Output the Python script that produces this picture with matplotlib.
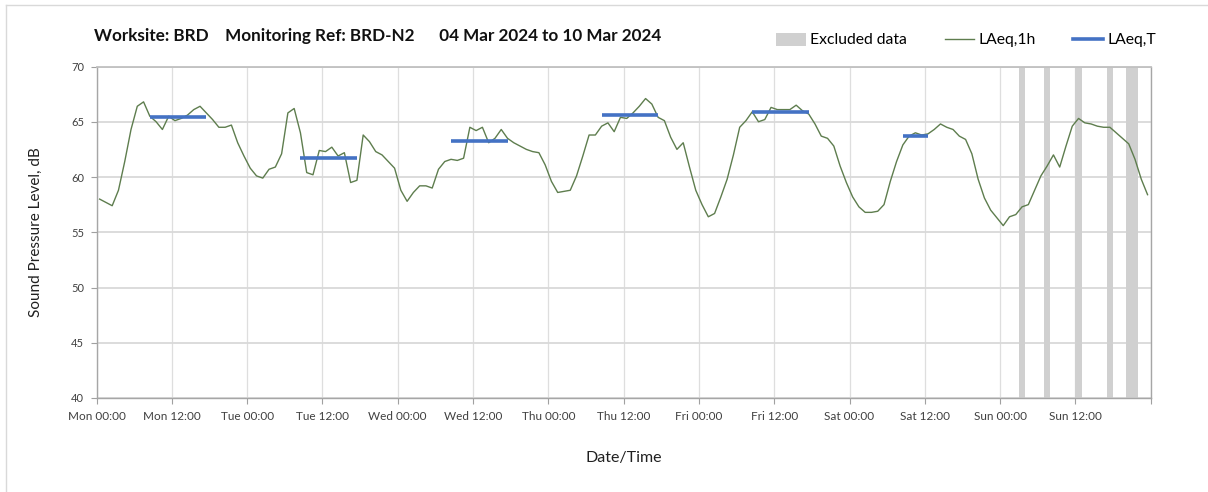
import numpy as np
import matplotlib
matplotlib.use('Agg')
import matplotlib.pyplot as plt
from matplotlib.lines import Line2D
from matplotlib.patches import Patch

plt.rcParams['font.family'] = ['Lato', 'DejaVu Sans']

# hourly LAeq,1h from Mon 04 Mar 00:00, one value per hour (168 h)
laeq_1h = [
    58.0, 57.7, 57.4, 58.8, 61.4, 64.3, 66.4, 66.8, 65.5, 65.0,
    64.3, 65.5, 65.1, 65.3, 65.6, 66.1, 66.4, 65.8, 65.2, 64.5,
    64.5, 64.7, 63.1, 61.9, 60.8, 60.1, 59.9, 60.7,
    60.9, 62.1, 65.8, 66.2, 64.0, 60.4, 60.2, 62.4, 62.3, 62.7,
    61.9, 62.2, 59.5, 59.7, 63.8, 63.2, 62.3, 62.0, 61.4, 60.8,
    58.8, 57.8, 58.6, 59.2, 59.2, 59.0, 60.7,
    61.4, 61.6, 61.5, 61.7, 64.5, 64.2, 64.5, 63.1, 63.5, 64.3,
    63.5, 63.1, 62.8, 62.5, 62.3, 62.2, 61.1, 59.6, 58.6, 58.7,
    58.8, 60.1, 61.9, 63.8, 63.8,
    64.6, 64.9, 64.1, 65.4, 65.3, 65.8, 66.4, 67.1, 66.6, 65.4,
    65.1, 63.6, 62.5, 63.1, 60.9, 58.8, 57.5, 56.4, 56.7, 58.2,
    59.8, 62.0, 64.5, 65.1, 65.9, 65.0, 65.2,
    66.3, 66.1, 66.1, 66.1, 66.5, 66.0, 65.7, 64.8, 63.7, 63.5,
    62.8, 61.0, 59.5, 58.2, 57.3, 56.8, 56.8, 56.9, 57.5, 59.6,
    61.4, 62.9, 63.7, 64.0, 63.8, 63.9, 64.3, 64.8,
    64.5, 64.3, 63.7, 63.4, 62.1, 59.8, 58.1, 57.0, 56.3, 55.6,
    56.4, 56.6, 57.3, 57.5, 58.8, 60.1, 61.0, 62.0, 60.9, 62.8,
    64.6, 65.3, 64.9, 64.8, 64.6, 64.5, 64.5, 64.0, 63.5, 63.0,
    61.6, 59.8, 58.4,
]

# LAeq,T over the working period of each day (first hour, last hour, level)
period_start = [8, 32, 56, 80, 104, 128]
period_end = [17, 41, 65, 89, 113, 132]
laeq_t = [65.4, 61.7, 63.3, 65.6, 65.9, 63.7]

# hours flagged as excluded
excluded_hours = [147, 151, 156, 161, 164, 165]

tick_labels = ['Mon 00:00', 'Mon 12:00', 'Tue 00:00', 'Tue 12:00',
               'Wed 00:00', 'Wed 12:00', 'Thu 00:00', 'Thu 12:00',
               'Fri 00:00', 'Fri 12:00', 'Sat 00:00', 'Sat 12:00',
               'Sun 00:00', 'Sun 12:00', '']

green = '#5e7d4e'
blue = '#4472c4'
grey_bar = '#d0d0d0'

fig = plt.figure(figsize=(12.08, 4.92), dpi=100)
ax = fig.add_axes([96.5 / 1208, 1 - 398 / 492, (1150.7 - 96.5) / 1208, (398 - 66.5) / 492])

hours = np.arange(len(laeq_1h)) + 0.5  # plot each hourly value mid-hour

for h in excluded_hours:
    ax.axvspan(h, h + 1, color=grey_bar, lw=0, zorder=1)

ax.plot(hours, laeq_1h, color=green, lw=1.0, zorder=3)
for a, b, v in zip(period_start, period_end, laeq_t):
    ax.plot([a + 0.5, b + 0.5], [v, v], color=blue, lw=2.6, solid_capstyle='butt', zorder=4)

ax.set_xlim(0, 168)
ax.set_ylim(40, 70)
ax.set_xticks(np.arange(0, 169, 12))
ax.set_xticklabels(tick_labels, fontsize=8.5, color='#404040')
ax.set_yticks(np.arange(40, 71, 5))
ax.set_yticklabels([str(v) for v in range(40, 71, 5)], fontsize=8, color='#404040')
ax.tick_params(axis='both', direction='out', length=4, color='#a0a0a0', pad=5)

ax.grid(axis='y', color='#d9d9d9', lw=1.3, zorder=0)
ax.grid(axis='x', color='#dedede', lw=0.9, zorder=0)
ax.set_axisbelow(True)
for side in ['left', 'bottom', 'right']:
    ax.spines[side].set_color('#a6a6a6')
    ax.spines[side].set_linewidth(1.0)
ax.spines['top'].set_color('#c0c0c0')
ax.spines['top'].set_linewidth(1.3)

ax.set_ylabel('Sound Pressure Level, dB', fontsize=11, color='#202020', labelpad=20)
ax.set_xlabel('Date/Time', fontsize=11.5, color='#202020', labelpad=21)

fig.text(94 / 1208, 1 - 36 / 492,
         'Worksite: BRD    Monitoring Ref: BRD-N2      04 Mar 2024 to 10 Mar 2024',
         fontsize=12.3, fontweight='bold', color='#111111', va='center', ha='left')

handles = [Patch(facecolor=grey_bar, edgecolor='none'),
           Line2D([], [], color=green, lw=1.0),
           Line2D([], [], color=blue, lw=2.6)]
fig.legend(handles, ['Excluded data', 'LAeq,1h', 'LAeq,T'], loc='center',
           bbox_to_anchor=(966 / 1208, 1 - 40 / 492), ncol=3, frameon=False,
           fontsize=11.3, handlelength=1.9, handletextpad=0.25, columnspacing=2.4,
           handleheight=0.9)

# chart area border
fig.add_artist(Line2D([5.5 / 1208, 5.5 / 1208], [0, 1 - 4.5 / 492], color='#d9d9d9', lw=1))
fig.add_artist(Line2D([5.5 / 1208, 1], [1 - 4.5 / 492, 1 - 4.5 / 492], color='#d9d9d9', lw=1))

fig.savefig('out.png', dpi=100)
